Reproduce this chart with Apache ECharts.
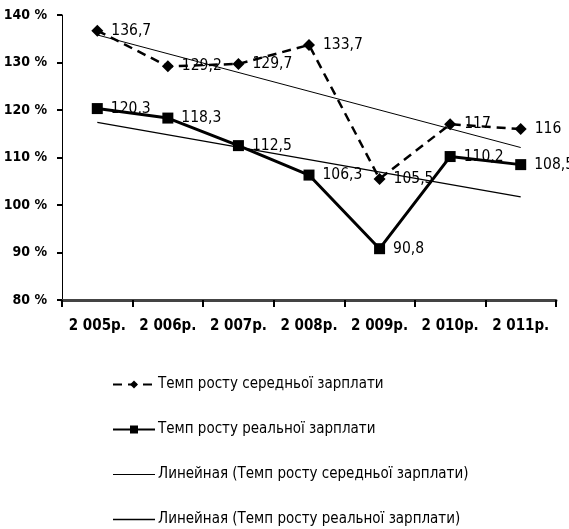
<!DOCTYPE html>
<html><head><meta charset="utf-8">
<script src="https://cdn.jsdelivr.net/npm/echarts@6/dist/echarts.min.js"></script>
<style>html,body{margin:0;padding:0;background:#fff}#c{width:569px;height:529px}</style>
</head><body><div id="c"></div>
<script>
const categories = ['2 005р.', '2 006р.', '2 007р.', '2 008р.', '2 009р.', '2 010р.', '2 011р.'];
const avgWage = [136.7, 129.2, 129.7, 133.7, 105.5, 117, 116];
const realWage = [120.3, 118.3, 112.5, 106.3, 90.8, 110.2, 108.5];
const avgTrend = [135.8, null, null, null, null, null, 112.1];
const realTrend = [117.4, null, null, null, null, null, 101.7];
const yTicks = [80, 90, 100, 110, 120, 130, 140];
const names = ['Темп росту середньої зарплати', 'Темп росту реальної зарплати',
  'Линейная (Темп росту середньої зарплати)', 'Линейная (Темп росту реальної зарплати)'];

const F = '"DejaVu Sans Condensed", "Liberation Sans Narrow", sans-serif';
const chart = echarts.init(document.getElementById('c'), null, {renderer: 'canvas'});
const lbl = v => String(v.value).replace('.', ',');
chart.setOption({
  animation: false,
  backgroundColor: '#fff',
  grid: {left: 62, right: 13, top: 15, bottom: 229},
  xAxis: {
    type: 'category', data: categories, boundaryGap: true,
    axisLine: {lineStyle: {color: '#444', width: 3}},
    axisTick: {show: true, length: 7, lineStyle: {color: '#000', width: 2}},
    axisLabel: {color: '#000', fontFamily: F, fontWeight: 'bold', fontSize: 15, margin: 19, interval: 0},
    splitLine: {show: false}
  },
  yAxis: {
    type: 'value', min: 80, max: 140, interval: 10,
    axisLine: {show: true, lineStyle: {color: '#000', width: 1}},
    axisTick: {show: true, length: 5, lineStyle: {color: '#000', width: 2}},
    axisLabel: {color: '#000', fontFamily: F, fontWeight: 'bold', fontSize: 14, margin: 15,
      formatter: v => yTicks.includes(v) ? v + ' %' : ''},
    splitLine: {show: false}
  },
  legend: {
    orient: 'vertical', left: 112, top: 377, padding: 0, height: 160,
    itemGap: 30, itemWidth: 42, itemHeight: 10,
    textStyle: {color: '#000', fontFamily: F, fontSize: 15, padding: [0, 0, 0, -2]},
    data: [
      {name: names[0]},
      {name: names[1]},
      {name: names[2], icon: 'path://M0,0H42V1H0Z'},
      {name: names[3], icon: 'path://M0,0H42V1.4H0Z'}
    ]
  },
  series: [
    {name: names[2], type: 'line', data: avgTrend, connectNulls: true, symbol: 'none',
      lineStyle: {color: '#000', width: 1}, itemStyle: {color: '#000'}, z: 1},
    {name: names[3], type: 'line', data: realTrend, connectNulls: true, symbol: 'none',
      lineStyle: {color: '#000', width: 1.3}, itemStyle: {color: '#000'}, z: 1},
    {name: names[0], type: 'line', data: avgWage, symbol: 'diamond', symbolSize: 12,
      lineStyle: {color: '#000', width: 2.5, type: [9, 6]}, itemStyle: {color: '#000'},
      label: {show: true, position: 'right', distance: 8, color: '#000', fontFamily: F, fontSize: 15.5, formatter: lbl}, z: 3},
    {name: names[1], type: 'line', data: realWage, symbol: 'rect', symbolSize: 11,
      lineStyle: {color: '#000', width: 3}, itemStyle: {color: '#000'},
      label: {show: true, position: 'right', distance: 8, color: '#000', fontFamily: F, fontSize: 15.5, formatter: lbl}, z: 3}
  ]
});
</script></body></html>
